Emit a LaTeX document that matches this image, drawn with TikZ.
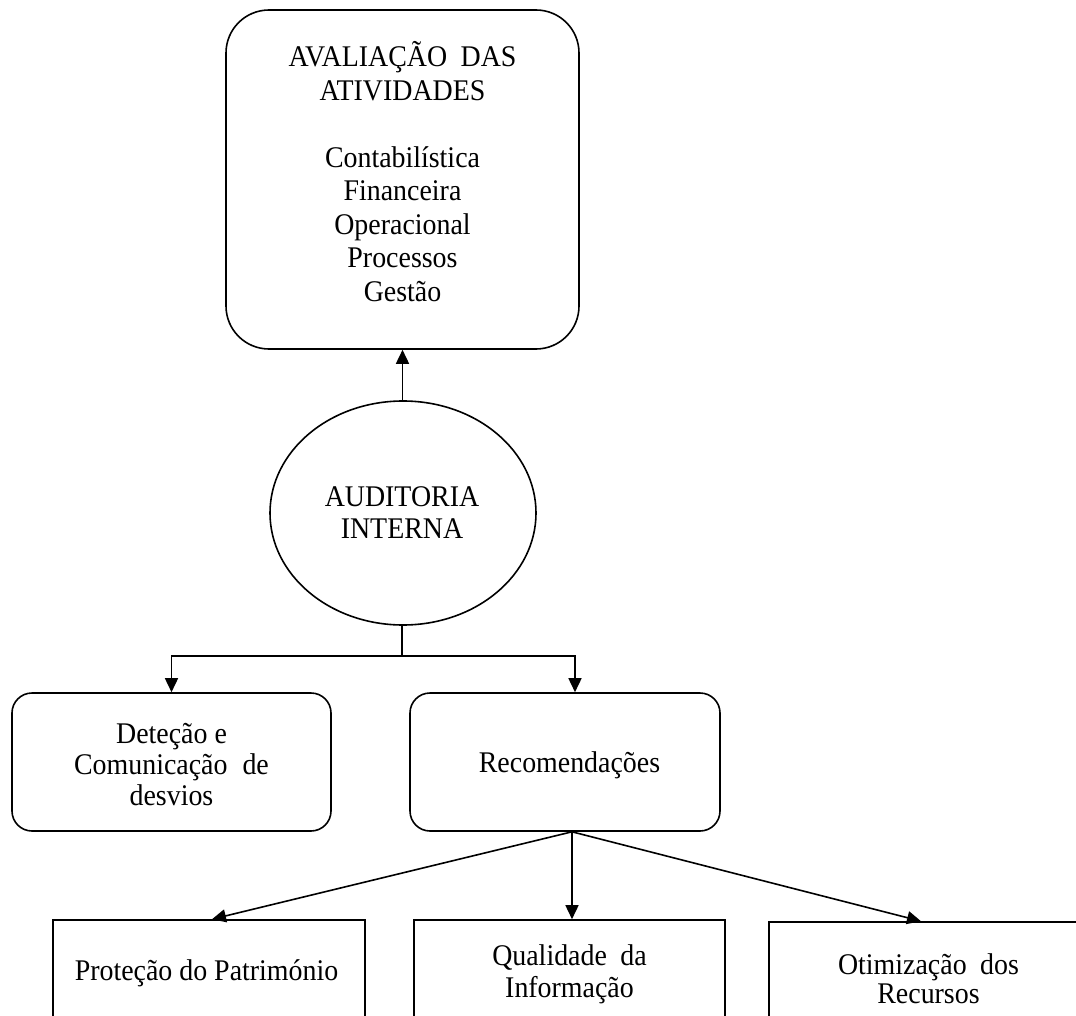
\documentclass[tikz,border=0pt]{standalone}
\usepackage{fontspec}
\setmainfont{Liberation Serif}[FakeStretch=0.93]
\usetikzlibrary{shapes.geometric,arrows.meta,calc}

\begin{document}
\begin{tikzpicture}[x=1pt,y=-1pt,
  line width=1.6pt,
  txt/.style={font=\fontsize{30}{33.5}\selectfont, align=center, inner sep=0pt},
  roundbox/.style={draw, rounded corners=#1, inner sep=0pt},
  roundbox/.default=20pt,
  plainbox/.style={draw, inner sep=0pt, minimum width=312pt, minimum height=140pt},
  arr/.style={-{Triangle[length=14pt,width=13pt]}}
]
\useasboundingbox (0,0) rectangle (1076,1016);
\clip (0,0) rectangle (1076,1016);

% activities evaluated by the internal audit
\node[roundbox=43pt, minimum width=353pt, minimum height=339pt] (aval) at (402.5,179.5) {};
\node[txt] (avaltxt) at (402.5,171.5) {AVALIAÇÃO\hspace{0.45em}DAS\\ATIVIDADES\\[33.5pt]Contabilística\\Financeira\\Operacional\\Processos\\Gestão};

% central ellipse
\node[draw, ellipse, inner sep=0pt, minimum width=266pt, minimum height=224pt] (aud) at (403,513) {};
\node[txt, font=\fontsize{30}{32}\selectfont] (audtxt) at (402,512.5) {AUDITORIA\\INTERNA};

% outcomes
\node[roundbox, minimum width=319pt, minimum height=138pt] (detec) at (171.5,762) {};
\node[txt, font=\fontsize{30}{31}\selectfont] (detectxt) at (171.5,765) {Deteção e\\Comunicação\hspace{0.5em}de\\desvios};

\node[roundbox, minimum width=310pt, minimum height=138pt] (recom) at (565,762) {};
\node[txt] (recomtxt) at (569.5,765) {Recomendações};

% results of the recommendations
\node[plainbox] (prot) at (209,990) {};
\node[txt] (prottxt) at (206.5,973) {Proteção do Património};

\node[plainbox, minimum width=311pt] (qual) at (569.5,990) {};
\node[txt, font=\fontsize{30}{31.5}\selectfont] (qualtxt) at (569.5,974.5) {Qualidade\hspace{0.45em}da\\Informação};

\node[plainbox, minimum width=318pt] (otim) at (928,992) {};
\node[txt, font=\fontsize{30}{29}\selectfont] (otimtxt) at (928.5,979) {Otimização\hspace{0.45em}dos\\Recursos};

% connectors
\draw[arr] (aud.north -| aval.south) -- (aval.south);

\coordinate (split) at ($(aud.south)+(-1,30)$);
\draw (aud.south -| split) -- (split);
\draw[arr] (split) -| (detec.north);
\draw[arr] (split) -| ([xshift=10pt]recom.north);

\coordinate (fork) at ([xshift=7pt]recom.south);
\draw[arr] (fork) -- ([xshift=3pt]prot.north);
\draw[arr] (fork) -- (fork |- qual.north);
\draw[arr] (fork) -- ([xshift=-7pt]otim.north);
\end{tikzpicture}
\end{document}
